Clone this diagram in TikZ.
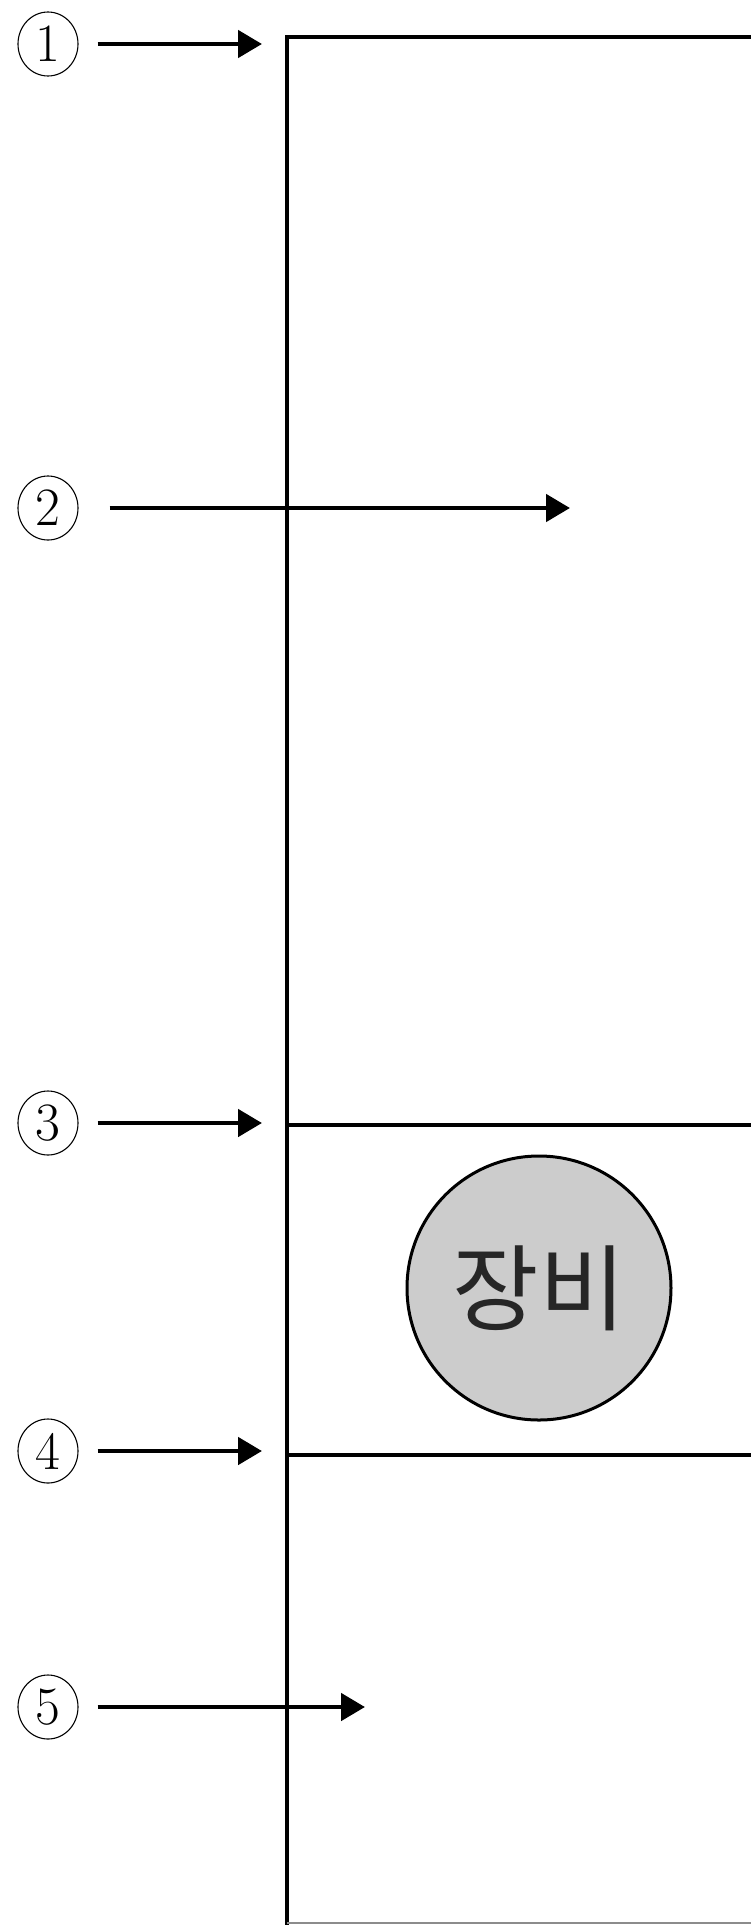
\documentclass[tikz,border=0pt]{standalone}
\usepackage{fontspec}
\newfontfamily\kor{Noto Sans CJK KR}
\usetikzlibrary{arrows.meta,shapes.geometric}
\newcommand{\wall}{287}

\begin{document}
\begin{tikzpicture}[x=1pt, y=-1pt,
    num/.style={draw, ellipse, line width=1.1pt, minimum width=60pt, minimum height=64pt, inner sep=0pt, font=\fontsize{54}{54}\selectfont},
    arr/.style={line width=4.8pt, -{Triangle[length=24pt, width=27pt]}},
    edge/.style={line width=4.4pt},
    equip/.style={draw, circle, line width=3pt, fill=black!20, minimum size=264pt, inner sep=0pt, text=black!85, font=\kor\fontsize{94}{94}\selectfont}]
    \useasboundingbox (0,0) rectangle (750,1925);

    % box
    \draw[edge] (752,37) -- (\wall,37) -- (\wall,1927);
    \draw[edge] (\wall,1125) -- (752,1125);
    \draw[edge] (\wall,1455) -- (752,1455);
    \draw[line width=1.5pt, black!45] (\wall,1923) -- (752,1923);

    % equipment
    \node[equip] (equip) at (539,1288) {장비};

    % labels
    \node[num] (n1) at (48,44) {1};
    \node[num] (n2) at (48,508) {2};
    \node[num] (n3) at (48,1123) {3};
    \node[num] (n4) at (48,1451) {4};
    \node[num] (n5) at (48,1707) {5};

    % arrow tips
    \coordinate (t1) at (262,44);
    \coordinate (t2) at (570,508);
    \coordinate (t3) at (262,1123);
    \coordinate (t4) at (262,1451);
    \coordinate (t5) at (365,1707);

    % arrows
    \draw[arr, shorten <=19pt] (n1.east) -- (t1);
    \draw[arr, shorten <=31pt] (n2.east) -- (t2);
    \draw[arr, shorten <=19pt] (n3.east) -- (t3);
    \draw[arr, shorten <=19pt] (n4.east) -- (t4);
    \draw[arr, shorten <=19pt] (n5.east) -- (t5);

\end{tikzpicture}
\end{document}
